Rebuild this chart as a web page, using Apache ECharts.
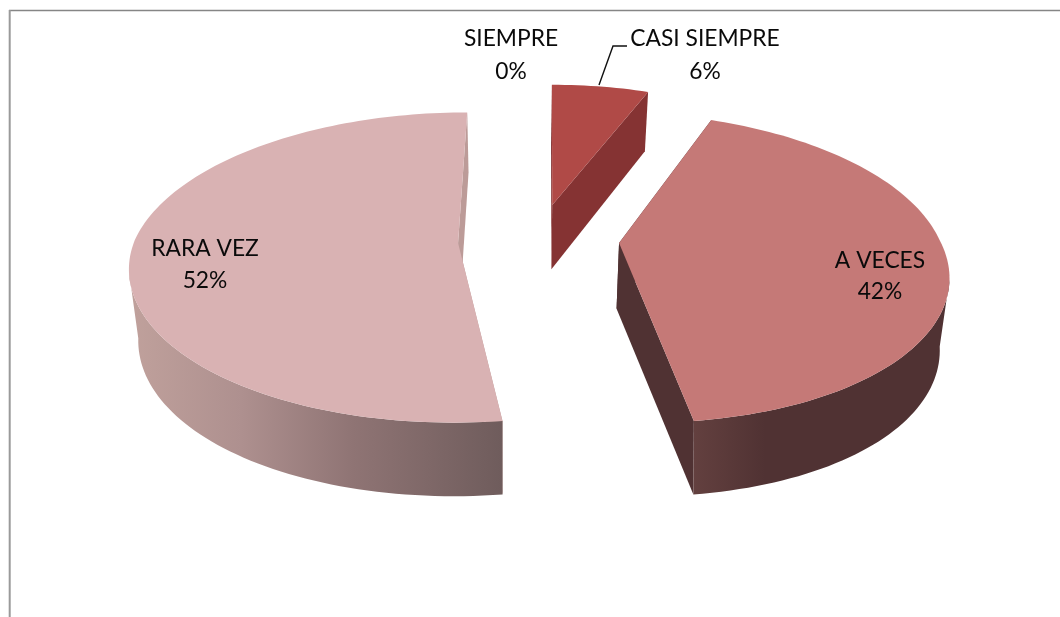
<!DOCTYPE html>
<html><head><meta charset="utf-8">
<style>html,body{margin:0;padding:0;background:#fff}#c{width:1060px;height:617px}</style>
<script src="https://cdn.jsdelivr.net/npm/echarts@6/dist/echarts.min.js"></script>
</head><body><div id="c"></div>
<script>
const categories = ['SIEMPRE','CASI SIEMPRE','A VECES','RARA VEZ'];
const percentValues = [0,6,42,52];
const explodeX = [0,0.118,0.30,-0.188];
const explodeY = [0,0.248,-0.016,-0.016];
const radiusX = [1,0.955,0.972,0.98];
const farSkew = [0,0,0.018,0];
const nearSkew = [0,0,0,-0.008];
const apexNudgeX = [0,-5,0,0];
const topColors = ['#c0504d','#b04a47','#c57977','#d9b2b3'];
const sideColors = ['#8a3330','#853333','#503233','#bc9b98'];
const outerStops = [
  [[0,'#853333'],[1,'#853333']],
  [[0,'#853333'],[1,'#853333']],
  [[0,'#63403f'],[0.28,'#503233'],[1,'#503233']],
  [[0,'#c0a19c'],[0.3,'#ae908f'],[0.6,'#8f7474'],[1,'#6f5c5c']]
];
const labelX = [511,705,880,205];
const labelY = [[39,72],[39,72],[261,292],[249,281]];

const VP = {c:520, cy:237.9, A:329, B:149.5, k:0.175, apexDrop:2.7, nearShift:25};
function proj(X,Y){const s=1/(1+VP.k*Y);return {x:VP.c+VP.A*X*s+VP.nearShift*Math.max(0,s-1),y:VP.cy-VP.B*Y*s,s};}
function down(p){const q=0.975+Math.max(0,p.s-1.03)*0.12;return {x:VP.c+(p.x-VP.c)*q,y:p.y+28.6+37*p.s};}
const total = percentValues.reduce((a,b)=>a+b,0);
function sum(i){let t=0;for(let j=0;j<i;j++)t+=percentValues[j];return t;}
function xy(p){return [p.x,p.y];}
function poly(points,fill){return {type:'polygon',silent:true,shape:{points},style:{fill}};}

function renderItem(params,api){
  const i=params.dataIndex, v=api.value(0), children=[];
  if(v>0){
    const a0=sum(i)/total*2*Math.PI, a1=(sum(i)+v)/total*2*Math.PI;
    const ex=explodeX[i], ey=explodeY[i];
    const n=Math.max(6,Math.round((a1-a0)*40));
    const arc=[], cosA=[];
    for(let j=0;j<=n;j++){
      const t=a0+(a1-a0)*j/n, c=Math.cos(t);
      arc.push(proj(ex+radiusX[i]*Math.sin(t)+(c>0?farSkew[i]:nearSkew[i])*c,ey+c));
      cosA.push(c);
    }
    const ap=proj(ex,ey);
    const apex={x:ap.x+apexNudgeX[i],y:ap.y+VP.apexDrop,s:ap.s};
    const cut=(p)=>poly([xy(apex),xy(p),xy(down(p)),xy(down(apex))],sideColors[i]);
    children.push(cut(arc[0]),cut(arc[n]));
    if(Math.min.apply(null,cosA)<0){
      const right=(a0+a1)/2<Math.PI;
      let e=0;
      arc.forEach((p,j)=>{if(right?p.x>arc[e].x:p.x<arc[e].x)e=j;});
      const keep=arc.filter((p,j)=>cosA[j]<=cosA[e]);
      const xs=keep.map(p=>p.x);
      const grad=new echarts.graphic.LinearGradient(
        Math.min.apply(null,xs),0,Math.max.apply(null,xs),0,
        outerStops[i].map(s=>({offset:s[0],color:s[1]})),true);
      children.push(poly(keep.map(xy).concat(keep.slice().reverse().map(p=>xy(down(p)))),grad));
    }
    children.push(poly([xy(apex)].concat(arc.map(xy)),topColors[i]));
  }
  const pct=Math.round(v/total*100)+'%';
  [categories[i],pct].forEach((t,k)=>children.push({type:'text',silent:true,z2:10,style:{
    text:t,x:labelX[i],y:labelY[i][k],align:'center',verticalAlign:'middle',
    font:'22.8px Lato, Carlito, sans-serif',fill:'#0a0a0a'}}));
  return {type:'group',children};
}

const chart=echarts.init(document.getElementById('c'),null,{renderer:'canvas'});
chart.setOption({
  animation:false,
  backgroundColor:'#fff',
  graphic:[
    {type:'line',silent:true,shape:{x1:9,y1:10.5,x2:1060,y2:10.5},style:{stroke:'#868686',lineWidth:1.5}},
    {type:'line',silent:true,shape:{x1:9.7,y1:10,x2:9.7,y2:617},style:{stroke:'#9a9a9a',lineWidth:2}},
    {type:'polyline',silent:true,z:5,shape:{points:[[599,85],[613,46],[627,46]]},style:{stroke:'#111',lineWidth:1.4,fill:'none'}}
  ],
  series:[{type:'custom',coordinateSystem:'none',renderItem,data:percentValues.map(v=>[v]),
    encode:{value:0},clip:false,silent:true}]
});
</script></body></html>
